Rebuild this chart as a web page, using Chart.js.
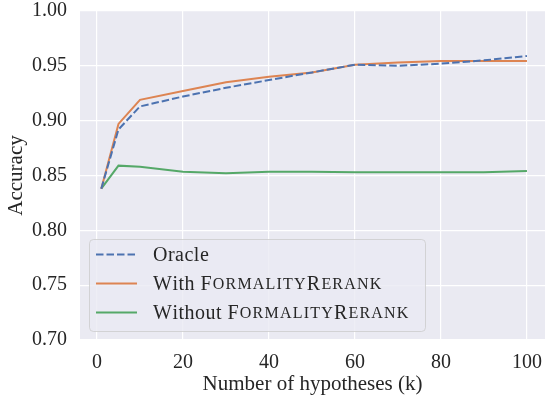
<!DOCTYPE html>
<html>
<head>
<meta charset="utf-8">
<script src="https://cdn.jsdelivr.net/npm/chart.js@4"></script>
<style>
  html, body { margin: 0; padding: 0; background: #fff; overflow: hidden; }
  canvas { display: block; }
</style>
</head>
<body>
<canvas id="accChart" width="545" height="401"></canvas>
<script>
// Chart data
const hypotheses = [1, 5, 10, 20, 30, 40, 50, 60, 70, 80, 90, 100];
const oracle = [0.838, 0.892, 0.913, 0.922, 0.930, 0.937, 0.944, 0.951, 0.950, 0.952, 0.955, 0.959];
const withRerank = [0.838, 0.897, 0.919, 0.927, 0.935, 0.940, 0.944, 0.951, 0.953, 0.9545, 0.9545, 0.9545];
const withoutRerank = [0.838, 0.859, 0.858, 0.8535, 0.852, 0.8535, 0.8535, 0.853, 0.853, 0.853, 0.853, 0.854];
const xTicks = [0, 20, 40, 60, 80, 100];
const yTicks = [0.70, 0.75, 0.80, 0.85, 0.90, 0.95, 1.00];
const seriesLabels = ['Oracle', 'With FormalityRerank', 'Without FormalityRerank'];

const FONT = "'Liberation Serif', 'Times New Roman', serif";
const TEXT = '#262626';

function toPoints(values) {
    return hypotheses.map((k, i) => ({ x: k, y: values[i] }));
}

// grey axes background (seaborn darkgrid)
const bgPlugin = {
    id: 'bg',
    beforeDraw(chart) {
        const { ctx, chartArea: a } = chart;
        ctx.save();
        ctx.fillStyle = '#EAEAF2';
        ctx.fillRect(a.left, a.top, a.right - a.left, a.bottom - a.top);
        ctx.restore();
    }
};

// draw "FormalityRerank" in small caps, the rest normally
function drawLabel(ctx, text, x, y, size) {
    const small = Math.round(size * 0.82);
    text.split(/(FormalityRerank)/).forEach(part => {
        const sc = part === 'FormalityRerank';
        for (const ch of part) {
            const upper = !sc || ch === ch.toUpperCase();
            ctx.font = (upper ? size : small) + 'px ' + FONT;
            const c = sc ? ch.toUpperCase() : ch;
            ctx.fillText(c, x, y);
            x += ctx.measureText(c).width + (sc ? 1.2 : 0.5);
        }
    });
}

const legendPlugin = {
    id: 'mplLegend',
    afterDatasetsDraw(chart) {
        const ctx = chart.ctx;
        const bx = 89.5, by = 239.5, bw = 336, bh = 92;
        ctx.save();
        ctx.beginPath();
        ctx.roundRect(bx, by, bw, bh, 4);
        ctx.fillStyle = 'rgba(234,234,242,0.8)';
        ctx.fill();
        ctx.strokeStyle = 'rgba(204,204,204,0.8)';
        ctx.lineWidth = 1;
        ctx.stroke();

        chart.data.datasets.forEach((ds, i) => {
            const y = 254.5 + i * 29;
            ctx.beginPath();
            ctx.setLineDash(ds.borderDash || []);
            ctx.strokeStyle = ds.borderColor;
            ctx.lineWidth = ds.borderWidth;
            ctx.moveTo(96, y);
            ctx.lineTo(137, y);
            ctx.stroke();
            ctx.setLineDash([]);
            ctx.fillStyle = TEXT;
            ctx.textBaseline = 'middle';
            drawLabel(ctx, ds.label, 153, y + 1, 20);
        });
        ctx.restore();
    }
};

const ctx = document.getElementById('accChart').getContext('2d');
const accChart = new Chart(ctx, {
    type: 'line',
    data: {
        datasets: [{
            label: seriesLabels[0],
            data: toPoints(oracle),
            borderColor: '#4C72B0',
            borderWidth: 2,
            borderDash: [7.5, 3],
            pointRadius: 0,
            fill: false
        }, {
            label: seriesLabels[1],
            data: toPoints(withRerank),
            borderColor: '#DD8452',
            borderWidth: 2,
            pointRadius: 0,
            fill: false
        }, {
            label: seriesLabels[2],
            data: toPoints(withoutRerank),
            borderColor: '#55A868',
            borderWidth: 2,
            pointRadius: 0,
            fill: false
        }]
    },
    options: {
        responsive: false,
        animation: false,
        devicePixelRatio: 1,
        layout: { padding: { top: 11, left: 0, right: 0, bottom: 0 } },
        plugins: {
            legend: { display: false },
            tooltip: { enabled: false }
        },
        scales: {
            x: {
                type: 'linear',
                min: -3.95,
                max: 104.2,
                afterBuildTicks(scale) {
                    scale.ticks = xTicks.map(v => ({ value: v }));
                },
                afterFit(scale) {
                    scale.height = 61;
                    scale.paddingLeft = 0;
                    scale.paddingRight = 0;
                },
                grid: { color: '#ffffff', lineWidth: 1.2, drawTicks: false },
                border: { display: false },
                ticks: {
                    padding: 11,
                    color: TEXT,
                    font: { family: FONT, size: 20 },
                    maxRotation: 0
                },
                title: {
                    display: true,
                    text: 'Number of hypotheses (k)',
                    color: TEXT,
                    font: { family: FONT, size: 21 },
                    padding: { top: 0, bottom: 4 }
                }
            },
            y: {
                min: 0.70,
                max: 1.00,
                afterBuildTicks(scale) {
                    scale.ticks = yTicks.map(v => ({ value: v }));
                },
                afterFit(scale) {
                    scale.width = 80;
                    scale.paddingTop = 0;
                    scale.paddingBottom = 0;
                },
                grid: { color: '#ffffff', lineWidth: 1.2, drawTicks: false },
                border: { display: false },
                ticks: {
                    padding: 13,
                    color: TEXT,
                    font: { family: FONT, size: 20 },
                    callback: v => v.toFixed(2)
                },
                title: {
                    display: true,
                    text: 'Accuracy',
                    color: TEXT,
                    font: { family: FONT, size: 21 },
                    padding: { top: 4, bottom: 0 }
                }
            }
        }
    },
    plugins: [bgPlugin, legendPlugin]
});
</script>
</body>
</html>
